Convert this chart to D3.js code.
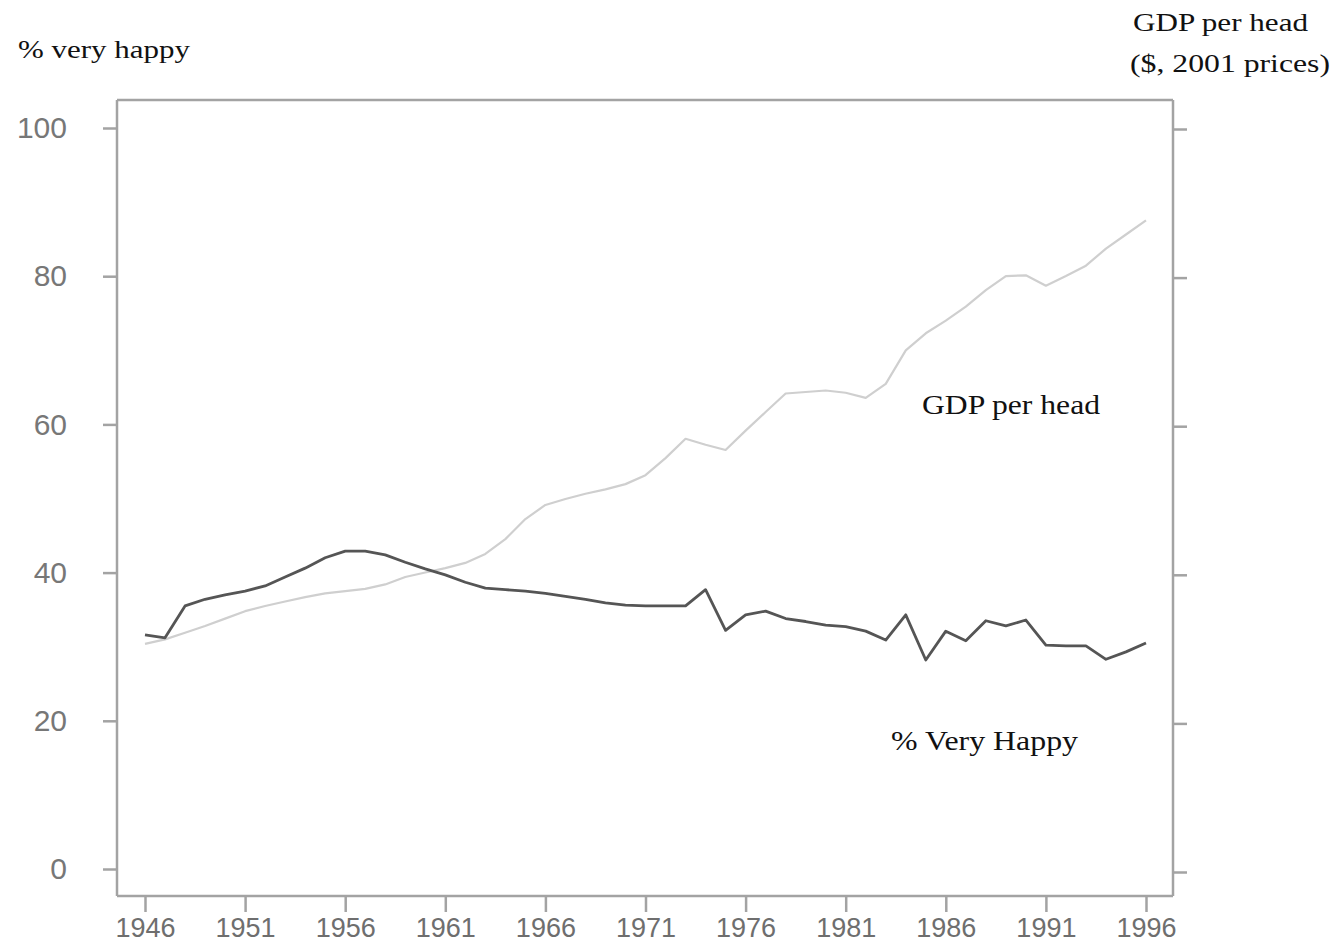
<!DOCTYPE html>
<html>
<head>
<meta charset="utf-8">
<script src="https://cdn.jsdelivr.net/npm/d3@7"></script>
<style>
  body { margin: 0; background: #fff; }
  svg { display: block; }
</style>
</head>
<body>
<div id="wrapper"></div>
<script>
// years on the x axis
const years = d3.range(1946, 1997);
const yearTicks = [1946, 1951, 1956, 1961, 1966, 1971, 1976, 1981, 1986, 1991, 1996];
const happyTicks = [0, 20, 40, 60, 80, 100];

// % very happy (left axis)
const veryHappy = [
  31.6, 31.2, 35.5, 36.4, 37.0, 37.5, 38.2, 39.4, 40.6, 42.0,
  42.9, 42.9, 42.4, 41.4, 40.5, 39.7, 38.7, 37.9, 37.7, 37.5,
  37.2, 36.8, 36.4, 35.9, 35.6, 35.5, 35.5, 35.5, 37.7, 32.2,
  34.3, 34.8, 33.8, 33.4, 32.9, 32.7, 32.1, 30.9, 34.3, 28.2,
  32.1, 30.8, 33.5, 32.8, 33.6, 30.2, 30.1, 30.1, 28.3, 29.3,
  30.5
];

// GDP per head, read against the same 0-100 grid (right axis has no labels)
const gdpPerHead = [
  30.3, 30.9, 31.8, 32.7, 33.7, 34.7, 35.4, 36.0, 36.6, 37.1,
  37.4, 37.7, 38.3, 39.3, 39.9, 40.5, 41.2, 42.4, 44.4, 47.1,
  49.0, 49.8, 50.5, 51.1, 51.8, 53.0, 55.3, 57.9, 57.1, 56.4,
  59.0, 61.5, 64.0, 64.2, 64.4, 64.1, 63.4, 65.3, 69.8, 72.1,
  73.8, 75.7, 77.9, 79.8, 79.9, 78.5, 79.8, 81.2, 83.5, 85.4,
  87.3
];

function drawChart() {
  const svg = d3.select('#wrapper').append('svg').attr('width', 1338).attr('height', 949);

  const left = 117, right = 1173, top = 100, bottom = 896;

  const x = d3.scaleLinear().domain([1946, 1996]).range([145, 1146]);
  const y = d3.scaleLinear().domain([0, 100]).range([869, 128]);
  const yRight = d3.scaleLinear().domain([0, 100]).range([872, 129]);

  const axisColor = '#a3a3a3';

  // frame: top border
  svg.append('line')
    .attr('x1', left).attr('x2', right)
    .attr('y1', top).attr('y2', top)
    .attr('stroke', axisColor).attr('stroke-width', 2.5);

  // left axis
  const yAxis = svg.append('g')
    .attr('transform', `translate(${left},0)`)
    .call(d3.axisLeft(y).tickValues(happyTicks).tickSize(14).tickSizeOuter(0).tickPadding(36));
  yAxis.select('.domain').attr('d', `M0,${top}V${bottom}`);

  // right axis, no labels
  const yAxisR = svg.append('g')
    .attr('transform', `translate(${right},0)`)
    .call(d3.axisRight(yRight).tickValues(happyTicks).tickSize(14).tickSizeOuter(0).tickFormat(''));
  yAxisR.select('.domain').attr('d', `M0,${top}V${bottom}`);

  // bottom axis
  const xAxis = svg.append('g')
    .attr('transform', `translate(0,${bottom})`)
    .call(d3.axisBottom(x).tickValues(yearTicks).tickFormat(d3.format('d')).tickSize(16).tickPadding(6));
  xAxis.select('.domain').attr('d', `M${left},0H${right}`);

  svg.selectAll('.domain').attr('stroke', axisColor).attr('stroke-width', 2.5);
  svg.selectAll('.tick line').attr('stroke', axisColor).attr('stroke-width', 2.5);
  yAxis.selectAll('.tick text')
    .attr('font-family', '"Liberation Sans", Arial, sans-serif')
    .attr('font-size', 30)
    .attr('fill', '#777');
  xAxis.selectAll('.tick text')
    .attr('font-family', '"Liberation Sans", Arial, sans-serif')
    .attr('font-size', 27)
    .attr('fill', '#6e6e6e');

  const line = d3.line().x((d, i) => x(years[i])).y((d) => y(d));
  const lineR = d3.line().x((d, i) => x(years[i])).y((d) => yRight(d) - 3);

  svg.append('path')
    .datum(gdpPerHead)
    .attr('d', lineR)
    .attr('fill', 'none')
    .attr('stroke', '#cfcfcf')
    .attr('stroke-width', 2.2)
    .attr('stroke-linejoin', 'round');

  svg.append('path')
    .datum(veryHappy)
    .attr('d', line)
    .attr('fill', 'none')
    .attr('stroke', '#555')
    .attr('stroke-width', 2.8)
    .attr('stroke-linejoin', 'round');

  const serif = '"Liberation Serif", "Times New Roman", serif';

  // text labels, stretched to the widths in the original
  const labels = [
    { t: '% very happy', x: 18, y: 58, size: 25, w: 172 },
    { t: 'GDP per head', x: 1133, y: 31, size: 25, w: 175 },
    { t: '($, 2001 prices)', x: 1130, y: 72, size: 25, w: 200 },
    { t: 'GDP per head', x: 922, y: 414, size: 28, w: 178 },
    { t: '% Very Happy', x: 891, y: 750, size: 28, w: 187 },
  ];

  svg.append('g')
    .selectAll('text')
    .data(labels)
    .enter()
    .append('text')
    .attr('x', (d) => d.x)
    .attr('y', (d) => d.y)
    .attr('font-family', serif)
    .attr('font-size', (d) => d.size)
    .attr('fill', '#111')
    .attr('textLength', (d) => d.w)
    .attr('lengthAdjust', 'spacingAndGlyphs')
    .text((d) => d.t);
}

drawChart();
</script>
</body>
</html>
